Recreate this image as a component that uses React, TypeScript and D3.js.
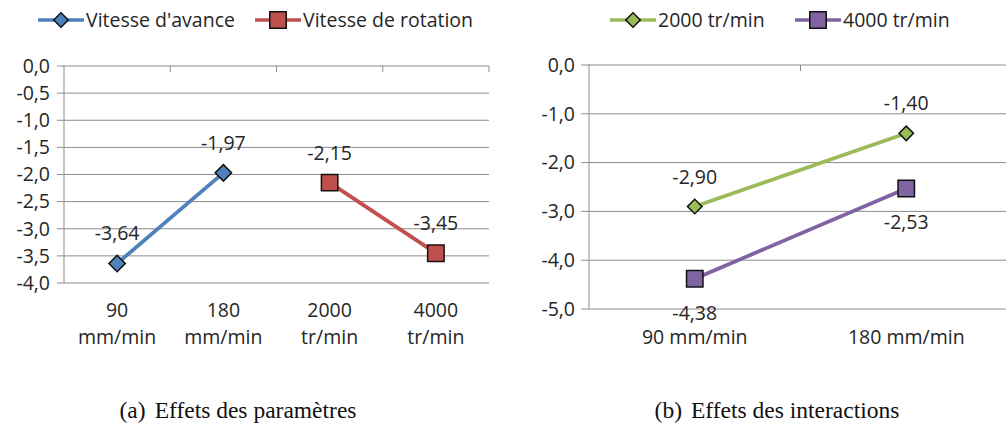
import * as d3 from "d3";

// (a) effets des paramètres
const leftCategories = [
  ["90", "mm/min"],
  ["180", "mm/min"],
  ["2000", "tr/min"],
  ["4000", "tr/min"],
];
const vitesseAvance = [-3.64, -1.97, null, null];
const vitesseRotation = [null, null, -2.15, -3.45];

// (b) effets des interactions
const rightCategories = ["90 mm/min", "180 mm/min"];
const rot2000 = [-2.9, -1.4];
const rot4000 = [-4.38, -2.53];

const fr = d3.formatLocale({
  decimal: ",",
  thousands: " ",
  grouping: [3],
  currency: ["", " €"],
  minus: "-",
});
const f1 = fr.format(".1f");
const f2 = fr.format(".2f");

const FONT = "'Open Sans', 'Noto Sans', sans-serif";
const FS = 19.5;
const TEXT = "#262626";
const GRID = "#8c8c8c";

const BLUE = "#4F81BD";
const RED = "#C0504D";
const GREEN = "#9BBB59";
const PURPLE = "#8064A2";

type Shape = "diamond" | "square";

const diamond = d3.symbol().type(d3.symbolSquare).size(135)()!;
const diamondSmall = d3.symbol().type(d3.symbolSquare).size(105)()!;
const square = d3.symbol().type(d3.symbolSquare).size(270)()!;

function Marker({ x, y, shape, color, small }: { x: number; y: number; shape: Shape; color: string; small?: boolean }) {
  if (shape === "diamond") {
    return (
      <path
        d={small ? diamondSmall : diamond}
        transform={`translate(${x},${y}) rotate(45)`}
        fill={color}
        stroke="#111"
        strokeWidth={1.5}
      />
    );
  }
  return <path d={square} transform={`translate(${x},${y})`} fill={color} stroke="#111" strokeWidth={1.5} />;
}

interface Series {
  name: string;
  values: (number | null)[];
  color: string;
  shape: Shape;
  below?: boolean;
}

function Legend({ items, x }: { items: { name: string; color: string; shape: Shape; x: number }[]; x: number }) {
  return (
    <g transform={`translate(${x},20)`}>
      {items.map((it) => (
        <g key={it.name} transform={`translate(${it.x},0)`}>
          <line x1={0} x2={46} y1={0} y2={0} stroke={it.color} strokeWidth={3.5} />
          <Marker x={23} y={0} shape={it.shape} color={it.color} small />
          <text x={48} y={0} dy="0.35em" fontSize={FS} fill={TEXT} fontFamily={FONT}>
            {it.name}
          </text>
        </g>
      ))}
    </g>
  );
}

function LeftChart() {
  const left = 64, right = 489, top = 66, bottom = 283;
  const x = d3.scaleBand<number>().domain(d3.range(leftCategories.length)).range([left, right]);
  const y = d3.scaleLinear().domain([-4, 0]).range([bottom, top]);
  const line = d3
    .line<number | null>()
    .defined((d) => d != null)
    .x((_, i) => x(i)! + x.bandwidth() / 2)
    .y((d) => y(d as number));
  const series: Series[] = [
    { name: "Vitesse d'avance", values: vitesseAvance, color: BLUE, shape: "diamond" },
    { name: "Vitesse de rotation", values: vitesseRotation, color: RED, shape: "square" },
  ];
  return (
    <g>
      {y.ticks(8).map((t) => (
        <g key={t}>
          <line x1={left - 7} x2={right} y1={y(t)} y2={y(t)} stroke={GRID} strokeWidth={1} />
          <text x={left - 14} y={y(t)} dy="0.35em" textAnchor="end" fontSize={FS} fill={TEXT} fontFamily={FONT}>
            {f1(t)}
          </text>
        </g>
      ))}
      <line x1={left} x2={left} y1={top - 1} y2={bottom} stroke={GRID} strokeWidth={1} />
      {d3.range(leftCategories.length).map((i) => (
        <line key={i} x1={x(i)! + x.bandwidth()} x2={x(i)! + x.bandwidth()} y1={top} y2={top + 6} stroke={GRID} />
      ))}
      {leftCategories.map((lines, i) =>
        lines.map((l, j) => (
          <text
            key={`${i}-${j}`}
            x={x(i)! + x.bandwidth() / 2}
            y={317 + j * 27}
            textAnchor="middle"
            fontSize={FS}
            fill={TEXT}
            fontFamily={FONT}
          >
            {l}
          </text>
        ))
      )}
      {series.map((s) => (
        <g key={s.name}>
          <path d={line(s.values)!} fill="none" stroke={s.color} strokeWidth={3.8} />
          {s.values.map((v, i) =>
            v == null ? null : (
              <g key={i}>
                <Marker x={x(i)! + x.bandwidth() / 2} y={y(v)} shape={s.shape} color={s.color} />
                <text
                  x={x(i)! + x.bandwidth() / 2}
                  y={y(v) - 23}
                  textAnchor="middle"
                  fontSize={FS}
                  fill={TEXT}
                  fontFamily={FONT}
                >
                  {f2(v)}
                </text>
              </g>
            )
          )}
        </g>
      ))}
      <Legend
        x={38}
        items={[
          { name: series[0].name, color: BLUE, shape: "diamond", x: 0 },
          { name: series[1].name, color: RED, shape: "square", x: 217 },
        ]}
      />
    </g>
  );
}

function RightChart() {
  const left = 589, right = 1012, top = 65, bottom = 309;
  const x = d3.scaleBand<number>().domain(d3.range(rightCategories.length)).range([left, right]);
  const y = d3.scaleLinear().domain([-5, 0]).range([bottom, top]);
  const line = d3
    .line<number>()
    .x((_, i) => x(i)! + x.bandwidth() / 2)
    .y((d) => y(d));
  const series: Series[] = [
    { name: "2000 tr/min", values: rot2000, color: GREEN, shape: "diamond" },
    { name: "4000 tr/min", values: rot4000, color: PURPLE, shape: "square", below: true },
  ];
  return (
    <g>
      {y.ticks(5).map((t) => (
        <g key={t}>
          <line x1={left - 8} x2={right} y1={y(t)} y2={y(t)} stroke={GRID} strokeWidth={1} />
          <text x={left - 14} y={y(t)} dy="0.35em" textAnchor="end" fontSize={FS} fill={TEXT} fontFamily={FONT}>
            {f1(t)}
          </text>
        </g>
      ))}
      <line x1={left} x2={left} y1={top - 1} y2={bottom} stroke={GRID} strokeWidth={1} />
      {d3.range(rightCategories.length).map((i) => (
        <line key={i} x1={x(i)! + x.bandwidth()} x2={x(i)! + x.bandwidth()} y1={top} y2={top + 6} stroke={GRID} />
      ))}
      {rightCategories.map((c, i) => (
        <text
          key={c}
          x={x(i)! + x.bandwidth() / 2}
          y={344}
          textAnchor="middle"
          fontSize={FS}
          fill={TEXT}
          fontFamily={FONT}
        >
          {c}
        </text>
      ))}
      {series.map((s) => (
        <g key={s.name}>
          <path d={line(s.values as number[])!} fill="none" stroke={s.color} strokeWidth={3.8} />
          {s.values.map((v, i) => (
            <g key={i}>
              <Marker x={x(i)! + x.bandwidth() / 2} y={y(v as number)} shape={s.shape} color={s.color} small />
              <text
                x={x(i)! + x.bandwidth() / 2}
                y={y(v as number) + (s.below ? 41 : -23)}
                textAnchor="middle"
                fontSize={FS}
                fill={TEXT}
                fontFamily={FONT}
              >
                {f2(v as number)}
              </text>
            </g>
          ))}
        </g>
      ))}
      <Legend
        x={610}
        items={[
          { name: series[0].name, color: GREEN, shape: "diamond", x: 0 },
          { name: series[1].name, color: PURPLE, shape: "square", x: 185 },
        ]}
      />
    </g>
  );
}

export default function App() {
  return (
    <div style={{ position: "fixed", left: 0, top: 0, width: 1006, height: 429, overflow: "hidden", background: "#fff" }}>
      <svg width={1006} height={429} style={{ display: "block" }}>
        <rect width={1006} height={429} fill="#fff" />
        <LeftChart />
        <RightChart />
        <text x={238} y={418} textAnchor="middle" fontSize={23.5} fill="#111" fontFamily="'Liberation Serif', serif">
          (a)<tspan dx={9}>Effets des paramètres</tspan>
        </text>
        <text x={777} y={418} textAnchor="middle" fontSize={23.5} fill="#111" fontFamily="'Liberation Serif', serif">
          (b)<tspan dx={9}>Effets des interactions</tspan>
        </text>
      </svg>
    </div>
  );
}
